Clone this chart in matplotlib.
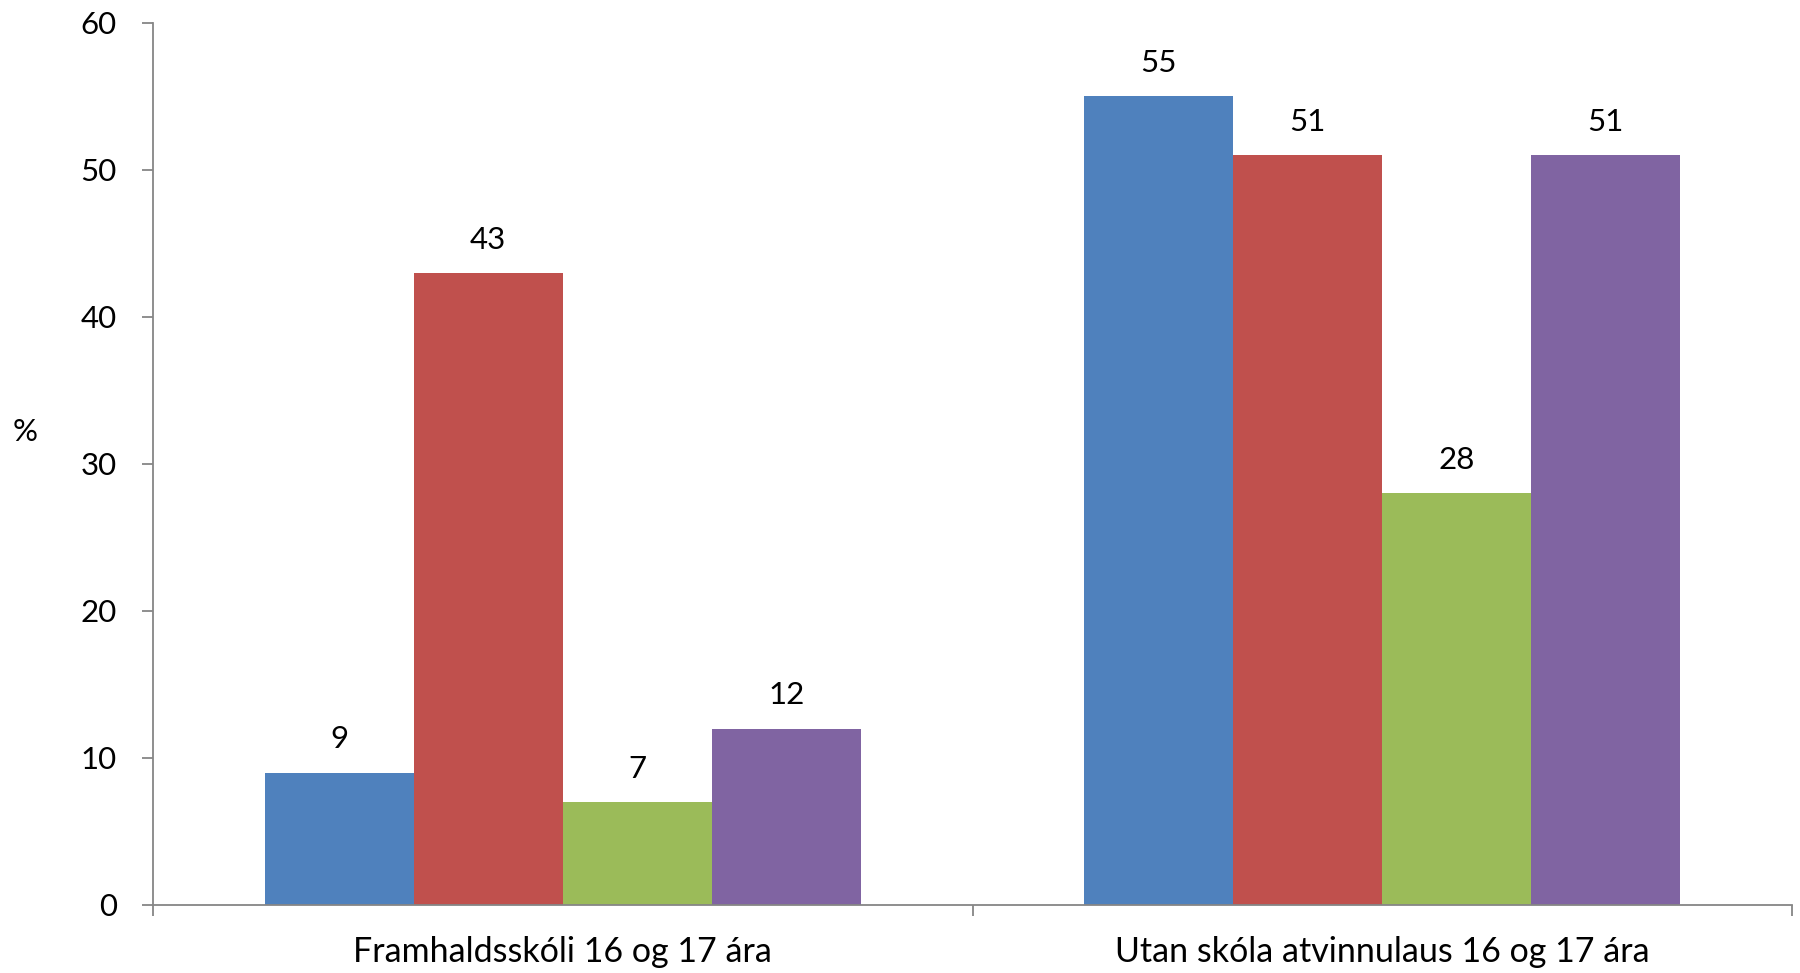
import numpy as np
import matplotlib
matplotlib.use("Agg")
import matplotlib.pyplot as plt

categories = ['Framhaldsskóli 16 og 17 ára', 'Utan skóla atvinnulaus 16 og 17 ára']
series_1 = [9, 55]
series_2 = [43, 51]
series_3 = [7, 28]
series_4 = [12, 51]
colors = ['#4F81BD', '#C0504D', '#9BBB59', '#8064A2']
yticks = [0, 10, 20, 30, 40, 50, 60]


def main():
    plt.rcParams['font.family'] = ['Lato', 'DejaVu Sans']
    fig = plt.figure(figsize=(18, 9.73), dpi=100)
    ax = fig.add_axes([0.085, 0.0699, 0.9106, 0.9065])

    series = [series_1, series_2, series_3, series_4]
    n = len(series)
    width = 1 / (n + 1.5)
    x = np.arange(len(categories))

    for i, vals in enumerate(series):
        pos = x + (i - (n - 1) / 2) * width
        bars = ax.bar(pos, vals, width=width, color=colors[i], edgecolor='none')
        for b, v in zip(bars, vals):
            ax.annotate('{0:g}'.format(v),
                        (b.get_x() + b.get_width() / 2, b.get_height()),
                        xytext=(0, 24), textcoords='offset points',
                        ha='center', va='center', fontsize=22.5)

    ax.set_xlim(-0.5, len(categories) - 0.5)
    ax.set_ylim(0, 60)
    ax.set_yticks(yticks)
    ax.set_yticklabels([str(t) for t in yticks], fontsize=22.5)

    ax.set_xticks(x)
    ax.set_xticklabels(categories, fontsize=24.5)
    ax.set_xticks(np.arange(-0.5, len(categories)), minor=True)
    ax.tick_params(axis='x', which='major', length=0, pad=22)
    ax.tick_params(axis='x', which='minor', length=8, width=1.3,
                   color='#868686', direction='out')
    ax.tick_params(axis='y', length=8, width=1.3, color='#868686',
                   direction='out', pad=18)

    for s in ['top', 'right']:
        ax.spines[s].set_visible(False)
    for s in ['left', 'bottom']:
        ax.spines[s].set_color('#868686')
        ax.spines[s].set_linewidth(1.3)

    fig.text(0.014, 0.556, '%', fontsize=22.5, ha='center', va='center')

    plt.savefig('out.png', dpi=100)
    plt.close()


if __name__ == "__main__":
    main()
